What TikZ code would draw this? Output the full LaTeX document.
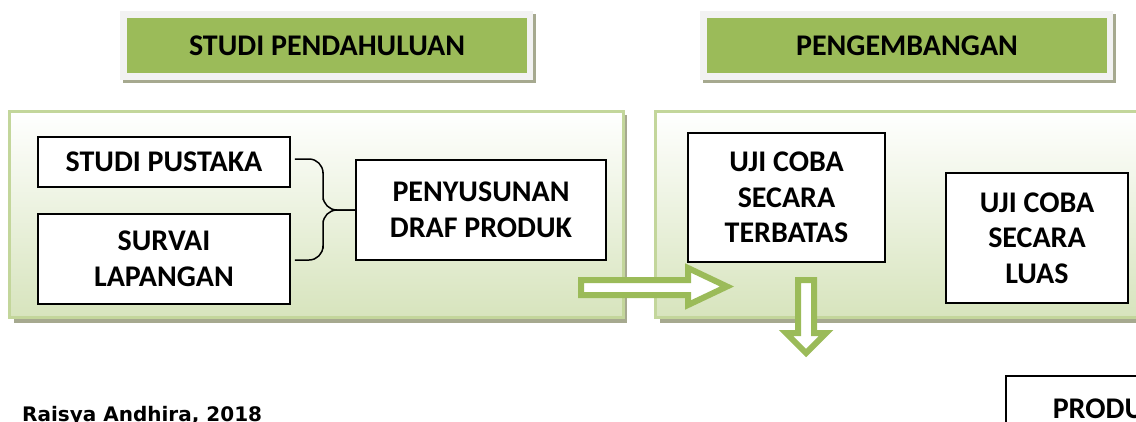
\documentclass[tikz,border=0pt]{standalone}
\usepackage{fontspec}
\setmainfont{Carlito}
\newfontfamily\notefont{DejaVu Sans}
\usetikzlibrary{calc}

\definecolor{hdrgreen}{HTML}{9BBB59}
\definecolor{framegray}{HTML}{F2F2F2}
\definecolor{shadowgray}{HTML}{A6A98F}
\definecolor{panelline}{HTML}{C3D69B}
\definecolor{panelfill}{HTML}{D7E4BD}

\begin{document}
\begin{tikzpicture}[
        x=1pt, y=-1pt,
        header/.style={rectangle, fill=hdrgreen, minimum width=400, minimum height=55, inner sep=0pt, font=\bfseries\fontsize{30}{35}\selectfont},
        panel/.style={draw=panelline, line width=3pt, top color=white, bottom color=panelfill},
        textbox/.style={rectangle, draw=black, line width=1.5pt, fill=white, align=center, inner sep=0pt, font=\bfseries\fontsize{30}{35.5}\selectfont},
        brace/.style={draw=black, line width=1.5pt, rounded corners=14pt},
        blockarrow/.style={draw=hdrgreen, fill=white, line width=6pt, line join=miter}
    ]
    \useasboundingbox (0,0) rectangle (1136,421);
    \clip (0,0) rectangle (1136,421);

    % ==========================================
    % 1. Headers
    % ==========================================
    \fill[shadowgray] (123,14) rectangle (536,83);
    \fill[framegray] (120,11) rectangle (533,80);
    \node[header] (hdr1) at (327,45.5) {STUDI PENDAHULUAN};

    \fill[shadowgray] (703,14) rectangle (1116,83);
    \fill[framegray] (700,11) rectangle (1113,80);
    \node[header] (hdr2) at (907,45.5) {PENGEMBANGAN};

    % ==========================================
    % 2. Panels
    % ==========================================
    \fill[shadowgray] (14,115) rectangle (627,323);
    \path[panel] (9.5,111.5) rectangle (623.5,317.5);

    \fill[shadowgray] (660,115) rectangle (1150,323);
    \path[panel] (655.5,111.5) rectangle (1145,317.5);

    % ==========================================
    % 3. Studi pendahuluan
    % ==========================================
    \node[textbox, minimum width=252, minimum height=50] (pustaka) at (164,162) {STUDI PUSTAKA};
    \node[textbox, minimum width=252, minimum height=90] (survai) at (164,259) {SURVAI\\LAPANGAN};
    \node[textbox, minimum width=250, minimum height=100] (draf) at (481,210) {PENYUSUNAN\\DRAF PRODUK};

    % kurung kurawal
    \path[brace] ($(pustaka.east)+(4,-3)$) -| ($(pustaka.east)!.5!(draf.west)$) |- (draf.west);
    \path[brace] ($(survai.east)+(4,1)$) -| ($(survai.east)!.5!(draf.west)$) |- (draf.west);

    % ==========================================
    % 4. Pengembangan
    % ==========================================
    \node[textbox, minimum width=197, minimum height=129] (terbatas) at (786.5,197.5) {UJI COBA\\SECARA\\TERBATAS};
    \node[textbox, minimum width=182, minimum height=130] (luas) at (1037,238) {UJI COBA\\SECARA\\LUAS};
    \node[textbox, minimum width=200, minimum height=66, anchor=north west, text width=200, align=left] (produk) at (1005,375) {\hspace*{47pt}PRODUK};

    % panah blok
    \path[blockarrow] (581,280) -- (688,280) -- (688,268) -- (727,286.5) -- (688,305) -- (688,295) -- (581,295) -- cycle;
    \path[blockarrow] (798,280) -- (814,280) -- (814,333) -- (826,333) -- (806,353) -- (786,333) -- (798,333) -- cycle;

    % sumber
    \node[anchor=north west, inner sep=0pt, font=\notefont\bfseries\fontsize{20}{24}\selectfont] (sumber) at (22,406) {Raisya Andhira, 2018};

\end{tikzpicture}
\end{document}
